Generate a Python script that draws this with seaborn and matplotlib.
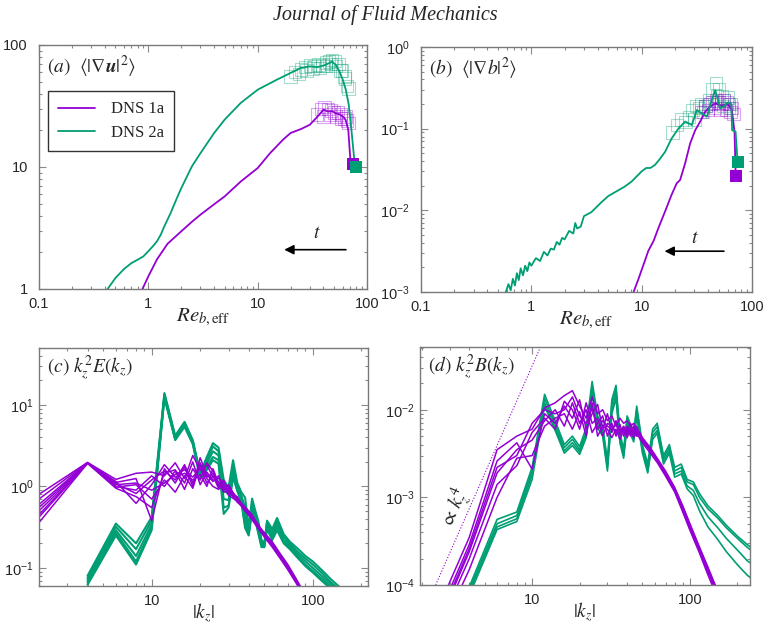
import numpy as np
import pandas as pd
import seaborn as sns
import matplotlib.pyplot as plt
from matplotlib.ticker import FuncFormatter, NullFormatter, LogLocator

# colours used in the paper figure
PURPLE = '#9400d3'
GREEN = '#009e73'

# ---------------- panel (a): <|grad u|^2> vs Re_b,eff ----------------
re_1a = [0.86, 1.0, 1.2, 1.5, 2.0, 2.5, 3.0, 4.0, 5.0, 7.0, 10.0, 13.0, 17.0, 20.0, 25.0, 30.0, 35.0,
         40.0, 44.0, 48.0, 52.0, 56.0, 60.0, 63.7, 67.4, 70.8]
gu_1a = [0.95, 1.27, 1.75, 2.35, 2.97, 3.55, 4.07, 4.95, 5.75, 7.6, 9.8, 13.0, 16.7, 19.0, 20.5, 22.2,
         25.7, 29.5, 28.5, 28.7, 27.5, 27.0, 26.0, 24.4, 20.2, 10.8]
re_2a = [0.40, 0.5, 0.6, 0.7, 0.8, 0.9, 1.0, 1.1, 1.2, 1.3, 1.4, 1.6, 1.8, 2.0, 2.5, 3.0, 4.0, 5.0, 7.0,
         10.0, 15.0, 20.0, 25.0, 30.0, 35.0, 40.0, 45.0, 48.0, 52.0, 56.0, 60.0, 64.0, 68.0, 72.0, 76.0, 78.0]
gu_2a = [0.93, 1.23, 1.46, 1.63, 1.74, 1.85, 2.04, 2.24, 2.46, 2.79, 3.26, 4.2, 5.4, 6.7, 10.1, 13.0,
         19.0, 24.5, 33.5, 43.0, 52.0, 59.0, 65.0, 66.8, 65.8, 67.8, 71.0, 73.0, 68.5, 60.7, 52.0, 43.0,
         32.6, 20.2, 12.2, 10.0]
end_1a = ([74.0], [10.5])
end_2a = ([79.0], [10.0])
box_x_2a = [20, 22, 25, 27, 30, 33, 36, 39, 42, 45, 48, 51, 55, 59, 63, 66, 68, 24, 28, 32, 37, 42, 47, 52, 57, 62]
box_y_2a = [55, 60, 63, 66, 68, 67, 69, 68, 72, 73, 75, 74, 70, 62, 53, 46, 44, 58, 62, 64, 65, 67, 70, 67, 62, 55]
box_x_1a = [35, 38, 41, 44, 47, 50, 54, 58, 62, 66, 68, 40, 46, 52, 58, 64]
box_y_1a = [27, 30, 31, 30, 29, 28, 28, 27, 25, 24, 23, 26, 27, 26, 25, 26]

# ---------------- panel (b): <|grad b|^2> vs Re_b,eff ----------------
re_1b = [8.2, 9.33, 10.4, 11.5, 12.8, 14.2, 16.3, 18.7, 20.8, 22.3, 24.8, 27.5, 30.6, 33.9, 37.6, 41.7,
         46.4, 53.4, 61.0, 65.7, 69.4, 71.0]
gb_1b = [0.0009, 0.00143, 0.00217, 0.0032, 0.0042, 0.0061, 0.0097, 0.0156, 0.0215, 0.0235, 0.0379, 0.066,
         0.096, 0.122, 0.161, 0.186, 0.204, 0.190, 0.198, 0.169, 0.092, 0.03]
re_2b = [0.58, 0.62, 0.65, 0.68, 0.71, 0.74, 0.77, 0.80, 0.84, 0.88, 0.92, 0.96, 1.0, 1.1, 1.2, 1.3, 1.4, 1.5,
         1.6, 1.7, 1.8, 1.9, 2.0, 2.2, 2.4, 2.5, 2.6, 2.8, 3.0, 3.5, 4.3, 5.0, 6.1, 7.0, 8.1, 9.0, 10, 11, 12,
         13.2, 14.5, 16.3, 18.7, 21.5, 24.8, 28.5, 31.6, 35, 39, 43, 46.4, 49, 51.5, 56, 61, 65, 66, 71, 74]
gb_2b = [0.00095, 0.00125, 0.00105, 0.00145, 0.0012, 0.0017, 0.0014, 0.00195, 0.0016, 0.0021, 0.0018, 0.0023,
         0.0021, 0.0026, 0.0024, 0.0031, 0.0028, 0.0034, 0.0033, 0.0041, 0.0038, 0.0046, 0.0044, 0.0056, 0.0052,
         0.0070, 0.0060, 0.0063, 0.0085, 0.0095, 0.0125, 0.015, 0.0175, 0.0195, 0.0225, 0.026, 0.030, 0.033,
         0.033, 0.036, 0.042, 0.052, 0.076, 0.100, 0.122, 0.111, 0.169, 0.154, 0.140, 0.220, 0.296, 0.230,
         0.177, 0.190, 0.210, 0.200, 0.096, 0.092, 0.039]
end_1b = ([71.5], [0.026])
end_2b = ([75.0], [0.039])
box_x_2b = [19, 21, 23, 25, 27, 29, 31, 33, 35, 38, 41, 44, 47, 50, 53, 56, 60, 64, 30, 36, 42, 48, 55, 62]
box_y_2b = [0.09, 0.11, 0.13, 0.12, 0.14, 0.17, 0.19, 0.18, 0.20, 0.19, 0.22, 0.30, 0.36, 0.30, 0.25, 0.22,
            0.24, 0.20, 0.13, 0.16, 0.20, 0.25, 0.19, 0.18]
box_x_1b = [35, 38, 41, 44, 47, 50, 53, 56, 59, 62, 65, 68, 40, 46, 52, 58, 64]
box_y_1b = [0.16, 0.19, 0.20, 0.21, 0.22, 0.21, 0.20, 0.22, 0.21, 0.20, 0.18, 0.15, 0.17, 0.18, 0.17, 0.17, 0.16]

# ---------------- panel (c): kz^2 E(kz) ----------------
kz_c1 = [2, 4, 6, 8, 10, 12, 14, 16, 18, 20, 22, 24, 26, 28, 30, 34, 38, 42, 46, 50, 56, 62, 70, 80, 90]
E_c1 = [
    [0.80, 1.97, 1.22, 1.45, 1.50, 1.35, 1.95, 1.25, 2.40, 1.60, 1.85, 1.30, 1.25, 1.10, 0.98, 0.72, 0.52, 0.42, 0.33, 0.27, 0.20, 0.150, 0.105, 0.068, 0.045],
    [0.70, 1.96, 1.12, 1.25, 0.38, 1.65, 1.10, 1.75, 1.00, 2.25, 1.40, 1.15, 1.35, 0.92, 1.05, 0.68, 0.55, 0.40, 0.31, 0.26, 0.19, 0.145, 0.100, 0.065, 0.043],
    [0.60, 1.95, 1.00, 0.90, 1.35, 1.00, 1.55, 0.92, 1.65, 1.20, 1.95, 1.55, 1.00, 1.20, 0.82, 0.75, 0.50, 0.43, 0.34, 0.25, 0.20, 0.140, 0.098, 0.064, 0.042],
    [0.50, 1.94, 1.15, 0.62, 1.05, 1.85, 1.30, 1.45, 1.20, 1.40, 1.00, 1.65, 1.10, 0.98, 0.92, 0.70, 0.56, 0.45, 0.32, 0.27, 0.21, 0.155, 0.110, 0.070, 0.046],
    [0.42, 1.93, 0.98, 1.05, 0.70, 1.20, 0.85, 1.35, 0.95, 1.85, 1.25, 1.00, 0.92, 1.05, 0.78, 0.66, 0.50, 0.39, 0.30, 0.24, 0.18, 0.135, 0.095, 0.062, 0.041],
    [0.36, 1.92, 0.95, 0.75, 0.55, 1.45, 1.60, 1.10, 2.00, 1.05, 1.50, 1.20, 1.15, 0.85, 0.88, 0.64, 0.53, 0.41, 0.32, 0.25, 0.19, 0.142, 0.102, 0.066, 0.044],
    [0.55, 1.95, 1.05, 1.10, 0.90, 1.10, 1.40, 1.60, 1.30, 1.70, 1.10, 1.35, 0.95, 1.15, 0.85, 0.70, 0.54, 0.44, 0.33, 0.26, 0.20, 0.148, 0.104, 0.067, 0.044],
    [0.45, 1.94, 1.08, 0.82, 1.20, 1.55, 1.20, 1.85, 1.10, 1.95, 1.30, 1.45, 1.05, 0.90, 0.95, 0.72, 0.51, 0.42, 0.31, 0.26, 0.19, 0.146, 0.101, 0.065, 0.043],
]
kz_c2 = [4, 6, 8, 10, 12, 14, 16, 18, 20, 22, 24, 26, 28, 30, 32, 34, 36, 38, 40, 42, 44, 46, 48, 50, 52,
         56, 60, 66, 72, 80, 90, 100, 115, 130, 150]
E_c2 = [
    [0.080, 0.35, 0.20, 0.42, 14.0, 4.2, 6.2, 3.7, 1.45, 2.3, 3.4, 3.0, 1.20, 0.97, 2.1, 1.10, 0.85, 0.73, 0.31, 0.71, 0.50, 0.37, 0.22, 0.20, 0.38, 0.30, 0.41, 0.26, 0.21, 0.175, 0.140, 0.120, 0.092, 0.072, 0.056],
    [0.075, 0.32, 0.17, 0.38, 13.5, 4.0, 6.0, 3.6, 1.40, 2.1, 3.1, 2.7, 0.90, 0.80, 1.8, 1.00, 0.78, 0.55, 0.29, 0.62, 0.46, 0.32, 0.21, 0.19, 0.36, 0.27, 0.37, 0.24, 0.20, 0.160, 0.130, 0.110, 0.085, 0.066, 0.052],
    [0.070, 0.29, 0.14, 0.34, 13.0, 3.9, 5.8, 3.5, 1.35, 1.9, 2.7, 2.4, 0.70, 0.68, 1.6, 0.95, 0.72, 0.42, 0.27, 0.56, 0.43, 0.29, 0.20, 0.19, 0.34, 0.25, 0.34, 0.22, 0.19, 0.150, 0.120, 0.100, 0.078, 0.062, 0.049],
    [0.066, 0.27, 0.12, 0.31, 12.6, 3.8, 5.6, 3.4, 1.30, 1.7, 2.3, 2.1, 0.55, 0.58, 1.4, 0.90, 0.68, 0.34, 0.26, 0.52, 0.40, 0.27, 0.19, 0.18, 0.32, 0.23, 0.31, 0.21, 0.18, 0.140, 0.110, 0.092, 0.072, 0.058, 0.046],
    [0.062, 0.25, 0.11, 0.29, 12.2, 3.7, 5.4, 3.3, 1.25, 1.6, 2.1, 1.9, 0.46, 0.55, 1.3, 0.88, 0.65, 0.31, 0.25, 0.50, 0.38, 0.26, 0.18, 0.18, 0.30, 0.22, 0.29, 0.20, 0.17, 0.135, 0.105, 0.088, 0.068, 0.055, 0.044],
]

# ---------------- panel (d): kz^2 B(kz) ----------------
kz_d1 = [2, 4, 6, 8, 10, 12, 14, 16, 18, 20, 22, 24, 26, 28, 30, 32, 34, 36, 38, 40, 42, 44, 46, 48, 50,
         56, 62, 70, 80, 90, 100, 115, 130, 150]
B_d1 = [
    [2.0e-5, 3.5e-4, 3.5e-3, 5.0e-3, 6.0e-3, 1.05e-2, 1.2e-2, 1.45e-2, 1.65e-2, 1.1e-2, 8.0e-3, 1.4e-2, 9.0e-3, 1.0e-2, 7.5e-3, 8.5e-3, 6.5e-3, 8.0e-3, 7.0e-3, 7.5e-3, 6.5e-3, 7.0e-3, 6.0e-3, 5.5e-3, 4.8e-3, 3.7e-3, 2.8e-3, 2.0e-3, 1.3e-3, 8.0e-4, 5.0e-4, 2.7e-4, 1.6e-4, 8.5e-5],
    [1.6e-5, 2.9e-4, 2.6e-3, 4.2e-3, 2.1e-3, 9.0e-3, 7.0e-3, 1.1e-2, 8.0e-3, 1.3e-2, 6.0e-3, 9.0e-3, 1.15e-2, 6.0e-3, 9.0e-3, 5.5e-3, 7.5e-3, 5.5e-3, 6.5e-3, 5.5e-3, 7.0e-3, 5.5e-3, 6.5e-3, 5.2e-3, 4.6e-3, 3.6e-3, 2.7e-3, 1.9e-3, 1.25e-3, 7.6e-4, 4.7e-4, 2.6e-4, 1.5e-4, 8.0e-5],
    [1.3e-5, 2.4e-4, 1.9e-3, 3.5e-3, 4.5e-3, 7.5e-3, 1.0e-2, 6.5e-3, 1.2e-2, 7.0e-3, 1.0e-2, 5.5e-3, 7.0e-3, 8.5e-3, 5.0e-3, 7.0e-3, 5.0e-3, 6.8e-3, 5.0e-3, 6.5e-3, 5.0e-3, 6.5e-3, 5.0e-3, 5.0e-3, 4.4e-3, 3.4e-3, 2.6e-3, 1.8e-3, 1.2e-3, 7.2e-4, 4.4e-4, 2.4e-4, 1.4e-4, 7.5e-5],
    [1.0e-5, 1.5e-4, 1.0e-3, 2.8e-3, 3.0e-3, 6.5e-3, 8.0e-3, 9.0e-3, 6.0e-3, 9.5e-3, 5.0e-3, 1.2e-2, 5.0e-3, 6.5e-3, 6.0e-3, 4.8e-3, 6.0e-3, 4.6e-3, 6.0e-3, 4.8e-3, 6.0e-3, 4.8e-3, 5.5e-3, 4.7e-3, 4.2e-3, 3.2e-3, 2.5e-3, 1.75e-3, 1.15e-3, 6.8e-4, 4.2e-4, 2.3e-4, 1.3e-4, 7.0e-5],
    [1.2e-5, 2.0e-4, 1.4e-3, 2.3e-3, 5.5e-3, 8.0e-3, 6.0e-3, 1.25e-2, 1.0e-2, 6.0e-3, 1.2e-2, 7.0e-3, 8.0e-3, 5.0e-3, 7.0e-3, 6.5e-3, 5.5e-3, 6.0e-3, 5.5e-3, 6.0e-3, 5.5e-3, 6.0e-3, 5.2e-3, 4.9e-3, 4.5e-3, 3.5e-3, 2.65e-3, 1.85e-3, 1.22e-3, 7.4e-4, 4.5e-4, 2.5e-4, 1.45e-4, 7.8e-5],
    [1.4e-5, 2.6e-4, 2.2e-3, 3.0e-3, 7.0e-3, 1.0e-2, 9.0e-3, 1.0e-2, 1.4e-2, 8.5e-3, 7.0e-3, 1.05e-2, 6.0e-3, 7.5e-3, 6.5e-3, 6.0e-3, 6.8e-3, 5.2e-3, 6.2e-3, 5.2e-3, 6.2e-3, 5.2e-3, 5.8e-3, 5.0e-3, 4.6e-3, 3.55e-3, 2.7e-3, 1.9e-3, 1.27e-3, 7.8e-4, 4.8e-4, 2.6e-4, 1.5e-4, 8.2e-5],
]
kz_d2 = [4, 6, 8, 10, 12, 14, 16, 18, 20, 22, 24, 26, 28, 30, 32, 34, 36, 38, 40, 44, 46, 50, 54, 58, 62,
         68, 74, 80, 88, 96, 105, 115, 130, 150, 170, 200, 230, 250]
B_d2 = [
    [9.5e-5, 5.6e-4, 6.8e-4, 2.2e-3, 1.5e-2, 7.5e-3, 4.0e-3, 5.0e-3, 3.8e-3, 6.2e-3, 2.1e-2, 8.5e-3, 6.5e-3, 2.6e-3, 1.3e-2, 1.9e-2, 5.5e-3, 3.5e-3, 8.5e-3, 5.5e-3, 1.1e-2, 4.0e-3, 2.4e-3, 6.0e-3, 7.0e-3, 3.0e-3, 4.0e-3, 2.2e-3, 2.4e-3, 1.6e-3, 1.5e-3, 1.1e-3, 8.0e-4, 6.2e-4, 4.8e-4, 3.6e-4, 2.9e-4, 2.6e-4],
    [8.8e-5, 5.0e-4, 6.2e-4, 2.0e-3, 1.35e-2, 6.8e-3, 3.7e-3, 4.6e-3, 3.5e-3, 5.7e-3, 1.85e-2, 7.5e-3, 6.0e-3, 2.4e-3, 1.15e-2, 1.7e-2, 5.0e-3, 3.2e-3, 7.8e-3, 5.0e-3, 1.0e-2, 3.7e-3, 2.2e-3, 5.5e-3, 6.4e-3, 2.8e-3, 3.7e-3, 2.0e-3, 2.2e-3, 1.5e-3, 1.4e-3, 1.0e-3, 7.4e-4, 5.8e-4, 4.5e-4, 3.4e-4, 2.7e-4, 2.4e-4],
    [8.2e-5, 4.6e-4, 5.7e-4, 1.8e-3, 1.2e-2, 6.2e-3, 3.4e-3, 4.2e-3, 3.3e-3, 5.2e-3, 1.65e-2, 6.8e-3, 5.5e-3, 2.2e-3, 1.0e-2, 1.5e-2, 4.6e-3, 3.0e-3, 7.2e-3, 4.6e-3, 9.2e-3, 3.4e-3, 2.0e-3, 5.0e-3, 5.8e-3, 2.6e-3, 3.4e-3, 1.85e-3, 2.0e-3, 1.35e-3, 1.2e-3, 8.5e-4, 6.0e-4, 4.5e-4, 3.4e-4, 2.5e-4, 1.9e-4, 1.7e-4],
    [7.6e-5, 4.3e-4, 5.3e-4, 1.6e-3, 1.1e-2, 5.8e-3, 3.2e-3, 3.9e-3, 3.1e-3, 4.8e-3, 1.5e-2, 6.2e-3, 5.0e-3, 2.0e-3, 9.0e-3, 1.35e-2, 4.2e-3, 2.8e-3, 6.6e-3, 4.3e-3, 8.5e-3, 3.2e-3, 1.9e-3, 4.6e-3, 5.4e-3, 2.4e-3, 3.2e-3, 1.7e-3, 1.85e-3, 1.25e-3, 1.05e-3, 7.0e-4, 4.6e-4, 3.3e-4, 2.4e-4, 1.7e-4, 1.3e-4, 1.15e-4],
]
# reference slope line  ~ kz^4
k4_x = [2.45, 11.3]
k4_y = [1.0e-4, 0.052]


def spectra_frame(kz, lines):
    # long table: one row per (line, kz) so seaborn draws each spectrum as its own unit
    rows = []
    for i, vals in enumerate(lines):
        for k, v in zip(kz, vals):
            rows.append({'kz': k, 'val': v, 'line': i})
    return pd.DataFrame(rows)


def style_axis(ax, xlim, ylim, plain_x=True, plain_y=False, ypad=8):
    ax.set_xscale('log')
    ax.set_yscale('log')
    ax.set_xlim(*xlim)
    ax.set_ylim(*ylim)
    ax.xaxis.set_major_locator(LogLocator(base=10))
    ax.yaxis.set_major_locator(LogLocator(base=10))
    ax.xaxis.set_minor_locator(LogLocator(base=10, subs=np.arange(2, 10)))
    ax.yaxis.set_minor_locator(LogLocator(base=10, subs=np.arange(2, 10)))
    plain = FuncFormatter(lambda v, p: f'{v:g}')
    if plain_x:
        ax.xaxis.set_major_formatter(plain)
    if plain_y:
        ax.yaxis.set_major_formatter(plain)
    ax.xaxis.set_minor_formatter(NullFormatter())
    ax.yaxis.set_minor_formatter(NullFormatter())
    ax.tick_params(which='both', direction='in', top=True, right=True, color='#8a8a8a', width=0.8)
    ax.tick_params(which='major', length=5, labelsize=10.5)
    ax.tick_params(axis='x', which='major', pad=6)
    ax.tick_params(axis='y', which='major', pad=ypad)
    ax.tick_params(which='minor', length=2.5)
    for s in ax.spines.values():
        s.set_color('#7a7a7a')
        s.set_linewidth(1.0)
    ax.set_xlabel('')
    ax.set_ylabel('')


sns.set_theme(style='ticks')
plt.rcParams['font.family'] = ['Liberation Sans', 'DejaVu Sans']
plt.rcParams['mathtext.fontset'] = 'custom'
plt.rcParams['mathtext.rm'] = 'Liberation Sans'
plt.rcParams['mathtext.it'] = 'Liberation Sans:italic'
plt.rcParams['mathtext.bf'] = 'Liberation Sans:bold'

fig = plt.figure(figsize=(7.7, 6.28), dpi=100)
W, H = 770.0, 628.0


def px_axes(left, top, right, bottom):
    return fig.add_axes([left / W, 1 - bottom / H, (right - left) / W, (bottom - top) / H])


ax_a = px_axes(39, 45, 367, 289)
ax_b = px_axes(421, 47, 752, 292)
ax_c = px_axes(39, 348, 368, 586)
ax_d = px_axes(420, 347, 750, 585)

serif = ['Liberation Serif', 'DejaVu Serif']
label_kw = dict(math_fontfamily='stix', fontsize=14)

# ---- (a)
ax = ax_a
sns.scatterplot(x=box_x_2a, y=box_y_2a, ax=ax, marker='s', s=80, facecolor='none',
                edgecolor=GREEN, linewidth=0.8, alpha=0.35, zorder=1)
sns.scatterplot(x=box_x_1a, y=box_y_1a, ax=ax, marker='s', s=80, facecolor='none',
                edgecolor=PURPLE, linewidth=0.8, alpha=0.35, zorder=1)
sns.lineplot(x=re_1a, y=gu_1a, ax=ax, sort=False, color=PURPLE, lw=1.3, label='DNS 1a')
sns.lineplot(x=re_2a, y=gu_2a, ax=ax, sort=False, color=GREEN, lw=1.3, label='DNS 2a')
sns.scatterplot(x=end_1a[0], y=end_1a[1], ax=ax, marker='s', s=75, color=PURPLE, edgecolor='none', zorder=4)
sns.scatterplot(x=end_2a[0], y=end_2a[1], ax=ax, marker='s', s=75, color=GREEN, edgecolor='none', zorder=4)
style_axis(ax, (0.1, 100), (1, 100), plain_x=True, plain_y=True)
ax.annotate('', xy=(16.5, 2.1), xytext=(68, 2.1),
            arrowprops=dict(arrowstyle='-|>', color='black', lw=1.2, mutation_scale=14))
ax.text(35, 2.45, r'$t$', ha='center', va='bottom', **label_kw)
ax.text(0.025, 0.965, r'$(a)\ \ \langle|\nabla \mathbfit{u}|^2\rangle$', transform=ax.transAxes,
        ha='left', va='top', **label_kw)
leg = ax.legend(loc='upper left', bbox_to_anchor=(0.027, 0.81), borderaxespad=0, frameon=True,
                fancybox=False, prop={'family': serif, 'size': 12}, handlelength=2.2,
                handletextpad=1.0, borderpad=0.6, labelspacing=0.45)
leg.get_frame().set_edgecolor('black')
leg.get_frame().set_linewidth(1.0)
ax.set_xlabel(r'$Re_{b,\mathrm{eff}}$', labelpad=-3, math_fontfamily='stix', fontsize=15)

# ---- (b)
ax = ax_b
sns.scatterplot(x=box_x_2b, y=box_y_2b, ax=ax, marker='s', s=80, facecolor='none',
                edgecolor=GREEN, linewidth=0.8, alpha=0.35, zorder=1)
sns.scatterplot(x=box_x_1b, y=box_y_1b, ax=ax, marker='s', s=80, facecolor='none',
                edgecolor=PURPLE, linewidth=0.8, alpha=0.35, zorder=1)
sns.lineplot(x=re_1b, y=gb_1b, ax=ax, sort=False, color=PURPLE, lw=1.3)
sns.lineplot(x=re_2b, y=gb_2b, ax=ax, sort=False, color=GREEN, lw=1.3)
sns.scatterplot(x=end_1b[0], y=end_1b[1], ax=ax, marker='s', s=75, color=PURPLE, edgecolor='none', zorder=4)
sns.scatterplot(x=end_2b[0], y=end_2b[1], ax=ax, marker='s', s=75, color=GREEN, edgecolor='none', zorder=4)
style_axis(ax, (0.1, 100), (1e-3, 1), plain_x=True)
ax.annotate('', xy=(15.2, 3.16e-3), xytext=(59, 3.16e-3),
            arrowprops=dict(arrowstyle='-|>', color='black', lw=1.2, mutation_scale=14))
ax.text(30.6, 3.6e-3, r'$t$', ha='center', va='bottom', **label_kw)
ax.text(0.025, 0.965, r'$(b)\ \ \langle|\nabla b|^2\rangle$', transform=ax.transAxes,
        ha='left', va='top', **label_kw)
ax.set_xlabel(r'$Re_{b,\mathrm{eff}}$', labelpad=-3, math_fontfamily='stix', fontsize=15)

# ---- (c)
ax = ax_c
sns.lineplot(data=spectra_frame(kz_c2, E_c2), x='kz', y='val', units='line', estimator=None,
             ax=ax, color=GREEN, lw=1.5, legend=False)
sns.lineplot(data=spectra_frame(kz_c1, E_c1), x='kz', y='val', units='line', estimator=None,
             ax=ax, color=PURPLE, lw=1.1, legend=False)
style_axis(ax, (2.0, 220), (0.06, 50), plain_x=True, ypad=4)
ax.text(0.025, 0.975, r'$(c)\ k_z^2E(k_z)$', transform=ax.transAxes, ha='left', va='top', **label_kw)
ax.set_xlabel(r'$|k_z|$', labelpad=-5, math_fontfamily='stix', fontsize=14)

# ---- (d)
ax = ax_d
sns.lineplot(data=spectra_frame(kz_d2, B_d2), x='kz', y='val', units='line', estimator=None,
             ax=ax, color=GREEN, lw=1.2, legend=False)
sns.lineplot(data=spectra_frame(kz_d1, B_d1), x='kz', y='val', units='line', estimator=None,
             ax=ax, color=PURPLE, lw=1.1, legend=False)
sns.lineplot(x=k4_x, y=k4_y, ax=ax, color=PURPLE, lw=0.8, linestyle=':')
style_axis(ax, (1.95, 240), (1e-4, 0.052), plain_x=True, ypad=4)
ax.text(3.3, 7.5e-4, r'$\propto\,k_z^4$', rotation=66, ha='center', va='center', **label_kw)
ax.text(0.025, 0.975, r'$(d)\ k_z^2B(k_z)$', transform=ax.transAxes, ha='left', va='top', **label_kw)
ax.set_xlabel(r'$|k_z|$', labelpad=-5, math_fontfamily='stix', fontsize=14)

fig.text(0.5, 1 - 15 / H, 'Journal of Fluid Mechanics', ha='center', va='center',
         family=serif, style='italic', fontsize=14.5)

fig.savefig('out.png', dpi=100)
